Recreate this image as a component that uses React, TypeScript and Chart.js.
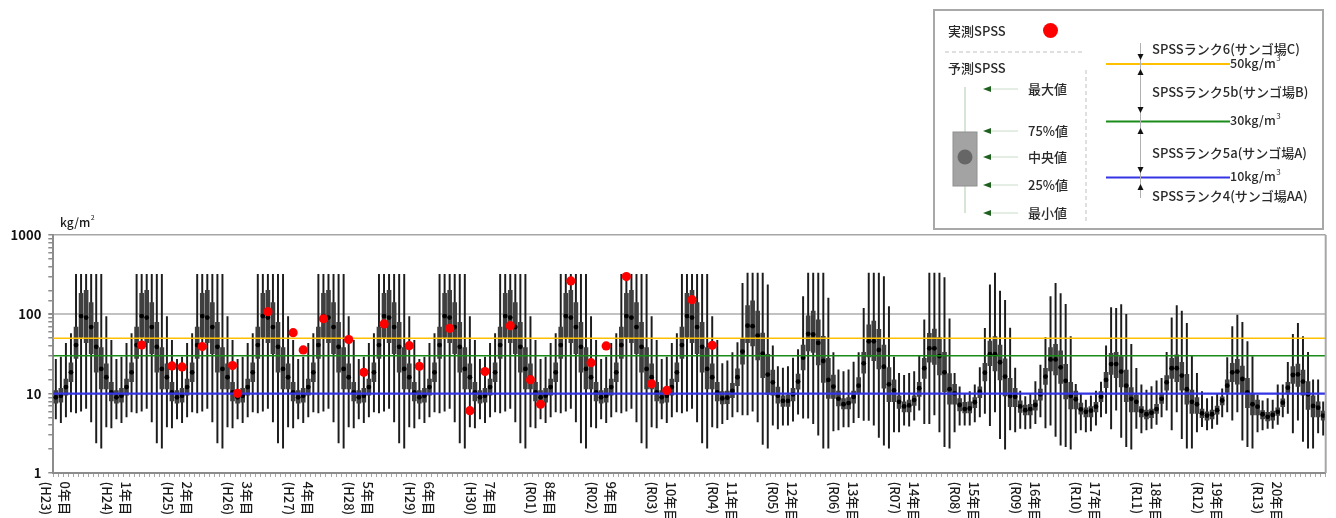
import React, { useEffect, useRef } from "react";
import { Chart, registerables } from "chart.js";

Chart.register(...registerables);

// ---------- data ----------
const yearLabels = [
  "0年目", "1年目", "2年目", "3年目", "4年目", "5年目", "6年目", "7年目", "8年目", "9年目", "10年目",
  "11年目", "12年目", "13年目", "14年目", "15年目", "16年目", "17年目", "18年目", "19年目", "20年目",
];
const eraLabels = [
  "(H23)", "(H24)", "(H25)", "(H26)", "(H27)", "(H28)", "(H29)", "(H30)", "(R01)", "(R02)", "(R03)",
  "(R04)", "(R05)", "(R06)", "(R07)", "(R08)", "(R09)", "(R10)", "(R11)", "(R12)", "(R13)",
];
const monthNames = ["1", "2", "3", "4", "5", "6", "7", "8", "9", "10", "11", "12"];

// predicted SPSS, per year (rows) and month (columns)
const maxByYear = [
  [27, 29, 43, 57, 320, 320, 320, 320, 320, 320, 94, 47],
  [27, 29, 43, 57, 320, 320, 320, 320, 320, 320, 94, 47],
  [27, 29, 43, 57, 320, 320, 320, 320, 320, 320, 94, 47],
  [27, 29, 43, 57, 320, 320, 320, 320, 320, 320, 94, 47],
  [27, 29, 43, 57, 320, 320, 320, 320, 320, 320, 94, 47],
  [27, 29, 43, 57, 320, 320, 320, 320, 320, 320, 94, 47],
  [27, 29, 43, 57, 320, 320, 320, 320, 320, 320, 94, 47],
  [27, 29, 43, 57, 320, 320, 320, 320, 320, 320, 94, 47],
  [27, 29, 43, 57, 320, 320, 320, 320, 320, 320, 94, 47],
  [27, 29, 43, 57, 320, 320, 320, 320, 320, 320, 94, 47],
  [27, 29, 43, 57, 320, 320, 320, 320, 320, 320, 94, 47],
  [24, 26, 33, 44, 246, 330, 330, 330, 330, 235, 40, 22],
  [21, 22, 28, 36, 167, 330, 330, 330, 330, 160, 33, 20],
  [19, 20, 25, 33, 119, 330, 330, 330, 300, 125, 29, 18],
  [17, 18, 19, 30, 85, 330, 330, 330, 290, 88, 18, 12.2],
  [10.1, 10.6, 12.9, 21.3, 66.7, 235, 330, 196, 150, 67, 21, 10.8],
  [9.2, 9.8, 14.2, 23, 51, 167, 246, 183, 134, 52.5, 13.1, 10.1],
  [8.3, 9.4, 10.8, 14, 40, 122, 119, 133, 100, 41.8, 20.9, 12.9],
  [11.1, 12.3, 14.5, 15.6, 33.3, 90.5, 129, 110, 77, 30, 18.1, 10.6],
  [8.7, 9.2, 10.1, 11.5, 28.4, 70, 98, 79.5, 45.3, 29.3, 9.6, 8.1],
  [8.7, 8.3, 12.9, 12.9, 24.9, 56, 77, 52.5, 33.3, 14.9, 14.9, 7.9],
];
const q3ByYear = [
  [10.9, 11.7, 15.3, 24.4, 69, 184, 201, 141, 79, 38, 23.7, 13.9],
  [10.9, 11.7, 15.3, 24.4, 69, 184, 201, 141, 79, 38, 23.7, 13.9],
  [10.9, 11.7, 15.3, 24.4, 69, 184, 201, 141, 79, 38, 23.7, 13.9],
  [10.9, 11.7, 15.3, 24.4, 69, 184, 201, 141, 79, 38, 23.7, 13.9],
  [10.9, 11.7, 15.3, 24.4, 69, 184, 201, 141, 79, 38, 23.7, 13.9],
  [10.9, 11.7, 15.3, 24.4, 69, 184, 201, 141, 79, 38, 23.7, 13.9],
  [10.9, 11.7, 15.3, 24.4, 69, 184, 201, 141, 79, 38, 23.7, 13.9],
  [10.9, 11.7, 15.3, 24.4, 69, 184, 201, 141, 79, 38, 23.7, 13.9],
  [10.9, 11.7, 15.3, 24.4, 69, 184, 201, 141, 79, 38, 23.7, 13.9],
  [10.9, 11.7, 15.3, 24.4, 69, 184, 201, 141, 79, 38, 23.7, 13.9],
  [10.9, 11.7, 15.3, 24.4, 69, 184, 201, 141, 79, 38, 23.7, 13.9],
  [10.6, 10.8, 13.5, 20.5, 50, 129, 148, 110, 58, 31.4, 19.9, 12.1],
  [9.4, 9.6, 11.7, 17.7, 41, 96, 110, 85, 53, 27.9, 17.2, 10.8],
  [8.7, 8.9, 10.8, 15.9, 33.3, 73.5, 82.5, 64.9, 41, 21.3, 14.9, 9.4],
  [7.9, 8.3, 9.4, 13.9, 27.9, 57.5, 65, 50.8, 33.3, 17.9, 13.1, 8.7],
  [7.8, 7.9, 8.9, 12.2, 24.2, 46, 52.5, 41, 27.4, 15.6, 11.7, 8.1],
  [7.2, 7.35, 8.3, 11.4, 20.9, 38, 42, 34.6, 23.4, 13.9, 10.8, 7.6],
  [6.65, 6.85, 7.8, 10.6, 18.6, 32.3, 33.3, 29.3, 19.9, 11.9, 9.6, 6.85],
  [6.2, 6.4, 7.35, 9.8, 16.9, 27.9, 30.8, 24.9, 17.5, 11.1, 8.9, 6.4],
  [5.9, 6.2, 7.0, 9.15, 14.9, 24.1, 27, 22.3, 15.6, 10.1, 8.3, 6.1],
  [5.8, 6.05, 6.65, 8.6, 13.9, 21.9, 23.6, 19.9, 14.2, 9.4, 7.9, 6.05],
];
const medianByYear = [
  [9.0, 9.4, 12.1, 18.6, 41, 95, 91, 69, 39, 20.5, 16.1, 10.4],
  [9.0, 9.4, 12.1, 18.6, 41, 95, 91, 69, 39, 20.5, 16.1, 10.4],
  [9.0, 9.4, 12.1, 18.6, 41, 95, 91, 69, 39, 20.5, 16.1, 10.4],
  [9.0, 9.4, 12.1, 18.6, 41, 95, 91, 69, 39, 20.5, 16.1, 10.4],
  [9.0, 9.4, 12.1, 18.6, 41, 95, 91, 69, 39, 20.5, 16.1, 10.4],
  [9.0, 9.4, 12.1, 18.6, 41, 95, 91, 69, 39, 20.5, 16.1, 10.4],
  [9.0, 9.4, 12.1, 18.6, 41, 95, 91, 69, 39, 20.5, 16.1, 10.4],
  [9.0, 9.4, 12.1, 18.6, 41, 95, 91, 69, 39, 20.5, 16.1, 10.4],
  [9.0, 9.4, 12.1, 18.6, 41, 95, 91, 69, 39, 20.5, 16.1, 10.4],
  [9.0, 9.4, 12.1, 18.6, 41, 95, 91, 69, 39, 20.5, 16.1, 10.4],
  [9.0, 9.4, 12.1, 18.6, 41, 95, 91, 69, 39, 20.5, 16.1, 10.4],
  [8.7, 8.9, 10.8, 16.1, 33.9, 72, 71, 54, 32, 17.4, 13.9, 9.4],
  [8.1, 8.1, 9.8, 14.2, 28.4, 56.8, 55.7, 43.6, 25.8, 14.9, 12.3, 8.6],
  [7.35, 7.6, 9.1, 12.6, 24.1, 45.7, 45.7, 35.6, 21.9, 13.1, 11.0, 7.9],
  [6.9, 7.1, 8.3, 11.7, 20.9, 37.3, 37.3, 29.8, 18.6, 11.4, 10.1, 7.2],
  [6.4, 6.5, 7.8, 10.6, 18.4, 31.4, 31.4, 24.9, 16.4, 9.35, 9.15, 6.9],
  [6.2, 6.4, 7.2, 9.8, 16.4, 27, 27, 21.5, 14.5, 9.35, 8.5, 6.35],
  [5.9, 6.1, 6.85, 9.15, 14.9, 23.6, 23.6, 19, 12.6, 8.6, 7.9, 6.05],
  [5.5, 5.75, 6.4, 8.6, 13.9, 20.9, 20.9, 16.9, 11.4, 7.9, 7.35, 5.65],
  [5.3, 5.5, 6.2, 8.2, 12.6, 18.6, 19, 15.3, 10.4, 7.35, 6.85, 5.5],
  [5.1, 5.4, 5.9, 7.7, 11.9, 17.2, 17.5, 14.2, 9.8, 7.0, 6.65, 5.3],
];
const q1ByYear = [
  [7.6, 7.8, 9.6, 14.2, 27.9, 51, 44, 32, 18.6, 11.5, 11.5, 8.1],
  [7.6, 7.8, 9.6, 14.2, 27.9, 51, 44, 32, 18.6, 11.5, 11.5, 8.1],
  [7.6, 7.8, 9.6, 14.2, 27.9, 51, 44, 32, 18.6, 11.5, 11.5, 8.1],
  [7.6, 7.8, 9.6, 14.2, 27.9, 51, 44, 32, 18.6, 11.5, 11.5, 8.1],
  [7.6, 7.8, 9.6, 14.2, 27.9, 51, 44, 32, 18.6, 11.5, 11.5, 8.1],
  [7.6, 7.8, 9.6, 14.2, 27.9, 51, 44, 32, 18.6, 11.5, 11.5, 8.1],
  [7.6, 7.8, 9.6, 14.2, 27.9, 51, 44, 32, 18.6, 11.5, 11.5, 8.1],
  [7.6, 7.8, 9.6, 14.2, 27.9, 51, 44, 32, 18.6, 11.5, 11.5, 8.1],
  [7.6, 7.8, 9.6, 14.2, 27.9, 51, 44, 32, 18.6, 11.5, 11.5, 8.1],
  [7.6, 7.8, 9.6, 14.2, 27.9, 51, 44, 32, 18.6, 11.5, 11.5, 8.1],
  [7.6, 7.8, 9.6, 14.2, 27.9, 51, 44, 32, 18.6, 11.5, 11.5, 8.1],
  [7.4, 7.5, 8.9, 12.6, 23.6, 44, 40, 26.6, 15.9, 9.8, 9.6, 7.6],
  [6.9, 6.9, 8.1, 11.4, 19.9, 34.6, 33, 23, 13.9, 8.7, 8.7, 7.0],
  [6.4, 6.4, 7.6, 10.1, 18.1, 29, 26, 20.5, 11.7, 7.9, 7.9, 6.5],
  [5.9, 5.9, 7.1, 9.2, 15.6, 24.9, 23.4, 17.2, 10.6, 7.35, 7.35, 6.05],
  [5.7, 5.7, 6.65, 8.9, 14.5, 22.5, 19.3, 14.9, 9.4, 6.85, 6.85, 5.8],
  [5.4, 5.4, 6.2, 8.3, 13.1, 19.3, 17.2, 13.5, 8.6, 6.4, 6.4, 5.5],
  [5.1, 5.1, 5.9, 7.9, 11.9, 17.5, 15.9, 12.2, 7.9, 5.9, 5.9, 5.1],
  [4.8, 5.0, 5.65, 7.55, 11.1, 15.6, 14.2, 11.1, 7.35, 5.65, 5.65, 5.0],
  [4.65, 4.8, 5.5, 7.2, 10.4, 14.2, 13.2, 10.1, 6.65, 5.4, 5.4, 4.8],
  [4.55, 4.65, 5.3, 6.85, 9.9, 13.5, 12.3, 9.6, 6.35, 5.1, 5.1, 4.65],
];
const minByYear = [
  [4.8, 4.3, 5.1, 5.9, 5.7, 6.0, 6.5, 4.4, 2.4, 2.05, 3.8, 3.7],
  [4.8, 4.3, 5.1, 5.9, 5.7, 6.0, 6.5, 4.4, 2.4, 2.05, 3.8, 3.7],
  [4.8, 4.3, 5.1, 5.9, 5.7, 6.0, 6.5, 4.4, 2.4, 2.05, 3.8, 3.7],
  [4.8, 4.3, 5.1, 5.9, 5.7, 6.0, 6.5, 4.4, 2.4, 2.05, 3.8, 3.7],
  [4.8, 4.3, 5.1, 5.9, 5.7, 6.0, 6.5, 4.4, 2.4, 2.05, 3.8, 3.7],
  [4.8, 4.3, 5.1, 5.9, 5.7, 6.0, 6.5, 4.4, 2.4, 2.05, 3.8, 3.7],
  [4.8, 4.3, 5.1, 5.9, 5.7, 6.0, 6.5, 4.4, 2.4, 2.05, 3.8, 3.7],
  [4.8, 4.3, 5.1, 5.9, 5.7, 6.0, 6.5, 4.4, 2.4, 2.05, 3.8, 3.7],
  [4.8, 4.3, 5.1, 5.9, 5.7, 6.0, 6.5, 4.4, 2.4, 2.05, 3.8, 3.7],
  [4.8, 4.3, 5.1, 5.9, 5.7, 6.0, 6.5, 4.4, 2.4, 2.05, 3.8, 3.7],
  [4.8, 4.3, 5.1, 5.9, 5.7, 6.0, 6.5, 4.4, 2.4, 2.05, 3.8, 3.7],
  [4.2, 4.7, 5.1, 5.9, 5.4, 5.4, 6.0, 4.4, 2.3, 2.05, 4.0, 3.6],
  [4.0, 4.0, 4.5, 5.5, 4.9, 4.9, 4.2, 3.0, 2.05, 2.05, 3.4, 3.5],
  [3.8, 3.8, 4.3, 5.0, 4.6, 4.6, 4.0, 2.8, 2.25, 2.05, 3.3, 3.3],
  [4.0, 3.9, 4.65, 6.2, 4.2, 4.2, 5.4, 3.3, 2.15, 2.05, 3.3, 4.0],
  [4.0, 4.0, 4.4, 5.1, 5.65, 3.95, 5.9, 2.7, 2.0, 3.5, 3.3, 3.65],
  [3.6, 3.65, 4.2, 5.1, 3.7, 4.0, 2.9, 2.25, 2.15, 2.0, 3.2, 3.5],
  [3.3, 3.4, 4.0, 5.1, 5.65, 3.6, 6.2, 2.8, 2.15, 2.0, 3.65, 3.2],
  [3.5, 3.65, 4.1, 5.1, 6.2, 3.5, 5.9, 2.7, 2.05, 2.05, 3.3, 3.85],
  [3.5, 3.65, 4.1, 5.1, 5.9, 4.65, 5.9, 2.6, 2.15, 2.05, 3.3, 3.5],
  [3.65, 3.65, 4.1, 5.1, 5.65, 3.2, 4.65, 2.5, 2.05, 2.05, 3.2, 3.0],
];

// measured SPSS: month index (0 = first month of 0年目) and value
const measuredMonth = [17, 23, 25, 29, 35, 36, 42, 47, 49, 53, 58, 61, 65, 70, 72, 78, 82, 85, 90, 94, 96, 102, 106, 109, 113, 118, 121, 126, 130];
const measuredValue = [41, 22.4, 21.7, 39.2, 22.6, 10.1, 108, 58.8, 35.6, 88, 48, 18.6, 75.7, 40.3, 22.1, 66.7, 6.1, 19, 72, 15, 7.35, 264, 24.6, 40, 299, 13.3, 11.0, 153, 40.7];

// SPSS rank thresholds
const rankValues = [50, 30, 10];
const rankColors = ["#ffc000", "#1a8c1a", "#3535e6"];
const rankLineWidths = [1.6, 1.6, 2.4];
const rankNames = ["SPSSランク6(サンゴ場C)", "SPSSランク5b(サンゴ場B)", "SPSSランク5a(サンゴ場A)", "SPSSランク4(サンゴ場AA)"];
const boxLegendLabels = ["最大値", "75%値", "中央値", "25%値", "最小値"];
const yMajorTicks = [1, 10, 100, 1000];

// ---------- derived tables ----------
const categories = yearLabels.flatMap((y) => monthNames.map((m) => `${y} ${m}月`));
const whiskerSeries = minByYear.flat().map((lo, i) => [lo, maxByYear.flat()[i]]);
const boxSeries = q1ByYear.flat().map((lo, i) => [lo, q3ByYear.flat()[i]]);
const medianSeries = medianByYear.flat();
const measuredSeries: (number | null)[] = categories.map(() => null);
measuredMonth.forEach((m, i) => {
  measuredSeries[m] = measuredValue[i];
});

const FONT = '"Noto Sans CJK JP", "Noto Sans", sans-serif';

function drawLegend(ctx: CanvasRenderingContext2D) {
  ctx.save();
  ctx.fillStyle = "#ffffff";
  ctx.fillRect(934, 10, 389, 219);
  ctx.strokeStyle = "#a8a8a8";
  ctx.lineWidth = 2;
  ctx.strokeRect(934, 10, 389, 219);

  ctx.font = `500 13px ${FONT}`;
  ctx.fillStyle = "#2a2a2a";
  ctx.textBaseline = "middle";
  ctx.textAlign = "left";
  ctx.fillText("実測SPSS", 948, 31);
  ctx.beginPath();
  ctx.arc(1050.5, 30.5, 7.5, 0, Math.PI * 2);
  ctx.fillStyle = "#ff0000";
  ctx.fill();

  ctx.setLineDash([4, 3]);
  ctx.strokeStyle = "#c0c0c0";
  ctx.lineWidth = 1;
  ctx.beginPath();
  ctx.moveTo(945, 52);
  ctx.lineTo(1083, 52);
  ctx.moveTo(1086, 70);
  ctx.lineTo(1086, 223);
  ctx.stroke();
  ctx.setLineDash([]);

  ctx.fillStyle = "#2a2a2a";
  ctx.fillText("予測SPSS", 948, 68);

  // box illustration
  ctx.strokeStyle = "#c9dcc9";
  ctx.lineWidth = 1.5;
  ctx.beginPath();
  ctx.moveTo(965, 87);
  ctx.lineTo(965, 213);
  ctx.stroke();
  ctx.fillStyle = "#a3a3a3";
  ctx.fillRect(953, 132, 24, 54);
  ctx.strokeStyle = "#8f8f8f";
  ctx.lineWidth = 1;
  ctx.strokeRect(953, 132, 24, 54);
  ctx.beginPath();
  ctx.arc(965, 157, 7.5, 0, Math.PI * 2);
  ctx.fillStyle = "#666666";
  ctx.fill();

  const arrowYs = [89, 131, 157, 185, 213];
  arrowYs.forEach((y, i) => {
    ctx.strokeStyle = "#c9dcc9";
    ctx.lineWidth = 1;
    ctx.beginPath();
    ctx.moveTo(990, y);
    ctx.lineTo(1018, y);
    ctx.stroke();
    ctx.fillStyle = "#1f5f1f";
    ctx.beginPath();
    ctx.moveTo(983, y);
    ctx.lineTo(991, y - 3);
    ctx.lineTo(991, y + 3);
    ctx.closePath();
    ctx.fill();
    ctx.fillStyle = "#2a2a2a";
    ctx.font = `500 13px ${FONT}`;
    ctx.fillText(boxLegendLabels[i], 1028, y);
  });

  // rank lines
  const lineYs = [64, 121.5, 177.5];
  lineYs.forEach((y, i) => {
    ctx.strokeStyle = rankColors[i];
    ctx.lineWidth = 2.2;
    ctx.beginPath();
    ctx.moveTo(1106, y);
    ctx.lineTo(1230, y);
    ctx.stroke();
    ctx.fillStyle = "#2a2a2a";
    ctx.font = `500 12.5px ${FONT}`;
    const base = `${rankValues[i]}kg/m`;
    ctx.fillText(base, 1230, y - 1);
    const w = ctx.measureText(base).width;
    ctx.font = `8px ${FONT}`;
    ctx.fillText("3", 1230 + w + 0.5, y - 6);
  });

  // vertical arrow axis
  ctx.strokeStyle = "#b0b0b0";
  ctx.lineWidth = 1;
  ctx.beginPath();
  ctx.moveTo(1140.5, 43);
  ctx.lineTo(1140.5, 198);
  ctx.stroke();
  ctx.fillStyle = "#111111";
  const downs = [57, 110, 170];
  const ups = [72, 131, 187];
  downs.forEach((y) => {
    ctx.beginPath();
    ctx.moveTo(1137.5, y - 3);
    ctx.lineTo(1143.5, y - 3);
    ctx.lineTo(1140.5, y + 3);
    ctx.closePath();
    ctx.fill();
  });
  ups.forEach((y) => {
    ctx.beginPath();
    ctx.moveTo(1137.5, y + 3);
    ctx.lineTo(1143.5, y + 3);
    ctx.lineTo(1140.5, y - 3);
    ctx.closePath();
    ctx.fill();
  });
  ctx.fillStyle = "#2a2a2a";
  ctx.font = `500 13px ${FONT}`;
  const nameYs = [49, 92, 153, 196];
  rankNames.forEach((n, i) => ctx.fillText(n, 1152, nameYs[i]));
  ctx.restore();
}

const overlayPlugin = {
  id: "overlay",
  beforeDatasetDraw(chart: any, args: any) {
    if (args.index !== 0) return;
    const { ctx, chartArea } = chart;
    const ys = chart.scales.y;
    ctx.save();
    rankValues.forEach((v, i) => {
      const py = ys.getPixelForValue(v);
      ctx.strokeStyle = rankColors[i];
      ctx.lineWidth = rankLineWidths[i];
      ctx.beginPath();
      ctx.moveTo(chartArea.left, py);
      ctx.lineTo(chartArea.right, py);
      ctx.stroke();
    });
    ctx.restore();
  },
  afterDraw(chart: any) {
    const { ctx, chartArea } = chart;
    const xs = chart.scales.x;
    ctx.save();
    // right border of plot
    ctx.strokeStyle = "#a6a6a6";
    ctx.lineWidth = 2;
    ctx.beginPath();
    ctx.moveTo(chartArea.right, chartArea.top);
    ctx.lineTo(chartArea.right, chartArea.bottom);
    ctx.stroke();

    // year labels, rotated clockwise
    ctx.font = `500 13px ${FONT}`;
    ctx.fillStyle = "#1a1a1a";
    yearLabels.forEach((label, i) => {
      const px = xs.getPixelForValue(i * monthNames.length);
      ctx.save();
      ctx.translate(px, chartArea.bottom + 8.5);
      ctx.rotate(Math.PI / 2);
      ctx.textAlign = "left";
      ctx.textBaseline = "middle";
      ctx.fillText(label, 0, -9.5);
      ctx.fillText(eraLabels[i], 0, 9.5);
      ctx.restore();
    });

    // y unit
    ctx.font = `500 12px ${FONT}`;
    ctx.textAlign = "left";
    ctx.textBaseline = "middle";
    ctx.fillText("kg/m", 60, 222);
    const w = ctx.measureText("kg/m").width;
    ctx.font = `7px ${FONT}`;
    ctx.fillText("2", 60 + w + 0.5, 217);
    ctx.restore();

    drawLegend(ctx);
  },
};

export default function App() {
  const ref = useRef<HTMLCanvasElement | null>(null);
  useEffect(() => {
    const canvas = ref.current;
    if (!canvas) return;
    const chart = new Chart(canvas, {
      type: "bar",
      data: {
        labels: categories,
        datasets: [
          {
            type: "line",
            label: "実測SPSS",
            data: measuredSeries,
            showLine: false,
            pointRadius: 4.6,
            pointBackgroundColor: "#ff0000",
            pointBorderColor: "#ff0000",
            pointBorderWidth: 0,
            order: 0,
          } as any,
          {
            type: "line",
            label: "中央値",
            data: medianSeries,
            showLine: false,
            pointRadius: 2.4,
            pointBackgroundColor: "#000000",
            pointBorderColor: "#000000",
            pointBorderWidth: 0,
            order: 1,
          } as any,
          {
            type: "bar",
            label: "25%値-75%値",
            data: boxSeries,
            backgroundColor: "#3f3f3f",
            barThickness: 4,
            grouped: false,
            order: 2,
          } as any,
          {
            type: "bar",
            label: "最小値-最大値",
            data: whiskerSeries,
            backgroundColor: "#1c1c1c",
            barThickness: 1.3,
            grouped: false,
            order: 3,
          } as any,
        ],
      },
      options: {
        animation: false,
        responsive: false,
        events: [],
        layout: { padding: { left: 0, right: 10.3, top: 235, bottom: 0 } },
        plugins: { legend: { display: false }, tooltip: { enabled: false } },
        scales: {
          x: {
            type: "category",
            offset: true,
            grid: {
              offset: true,
              drawOnChartArea: false,
              color: "#a6a6a6",
              tickColor: "#a6a6a6",
              tickLength: 4,
              lineWidth: 1,
            },
            border: { display: true, color: "#8c8c8c", width: 2 },
            ticks: { display: false, autoSkip: false },
            afterFit: (s: any) => {
              s.height = 45;
            },
          },
          y: {
            type: "logarithmic",
            min: 1,
            max: 1000,
            grid: {
              color: (c: any) => {
                const v = c.tick && c.tick.value;
                if (v === 1000) return "#a6a6a6";
                if (v === 100) return "#c2c2c2";
                return "rgba(0,0,0,0)";
              },
              lineWidth: (c: any) => (c.tick && c.tick.value === 100 ? 2 : 1.5),
              tickColor: "#8c8c8c",
              tickLength: 5,
            },
            border: { color: "#8c8c8c", width: 2 },
            ticks: {
              autoSkip: false,
              padding: 7,
              color: "#111111",
              font: { size: 13, family: FONT, weight: "bold" },
              callback: (v: any) => (yMajorTicks.includes(Number(v)) ? String(v) : ""),
            },
            afterFit: (s: any) => {
              s.width = 53.3;
            },
          },
        },
      },
      plugins: [overlayPlugin],
    } as any);
    return () => chart.destroy();
  }, []);

  return (
    <div style={{ position: "fixed", left: 0, top: 0, width: 1336, height: 518, background: "#ffffff" }}>
      <canvas ref={ref} width={1336} height={518} style={{ display: "block", width: 1336, height: 518 }} />
    </div>
  );
}
